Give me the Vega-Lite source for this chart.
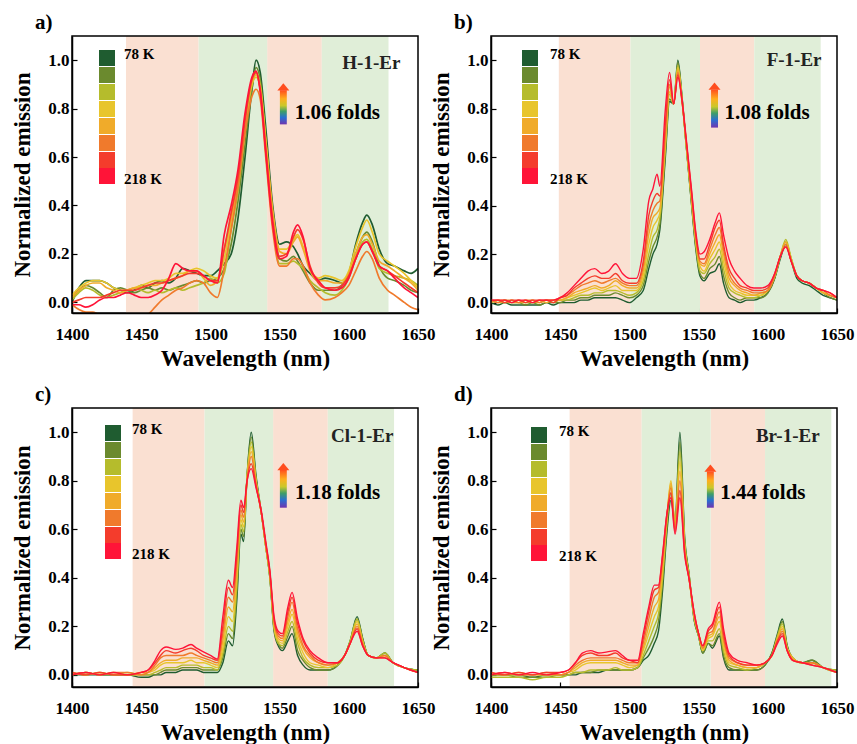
{
"$schema": "https://vega.github.io/schema/vega-lite/v6.json",
"background": "white",
"padding": {"left": 11, "top": 12, "right": 5, "bottom": 0},
"config": {
 "view": {"stroke": null},
 "font": "Liberation Serif",
 "axis": {"labelFont": "Liberation Serif", "labelFontWeight": "bold", "labelFontSize": 17, "labelColor": "black", "titleFont": "Liberation Serif", "titleFontWeight": "bold", "titleFontSize": 23, "titleColor": "black", "domainColor": "black", "domainWidth": 1.5, "tickColor": "black", "tickWidth": 1.2, "grid": false, "zindex": 2, "labelOverlap": false, "labelFlush": false},
 "axisX": {"labelPadding": 18, "titlePadding": 5},
 "axisY": {"labelPadding": 8, "titlePadding": 13}
},
"datasets": {
 "bandsA": [{"x1":1439,"x2":1491.5,"k":"s"},{"x1":1491.5,"x2":1541,"k":"g"},{"x1":1541,"x2":1580.5,"k":"s"},{"x1":1580.5,"x2":1628.7,"k":"g"}],
 "bandsB": [{"x1":1449,"x2":1500.8,"k":"s"},{"x1":1500.8,"x2":1551,"k":"g"},{"x1":1551,"x2":1590.2,"k":"s"},{"x1":1590.2,"x2":1638.2,"k":"g"}],
 "bandsC": [{"x1":1443.8,"x2":1495.8,"k":"s"},{"x1":1495.8,"x2":1545.3,"k":"g"},{"x1":1545.3,"x2":1584.8,"k":"s"},{"x1":1584.8,"x2":1632.7,"k":"g"}],
 "bandsD": [{"x1":1456.8,"x2":1508.9,"k":"s"},{"x1":1508.9,"x2":1558.7,"k":"g"},{"x1":1558.7,"x2":1598,"k":"s"},{"x1":1598,"x2":1645.9,"k":"g"}],
 "annA": [{"x1":1550.2,"x2":1555.2,"y1":0.735,"y2":0.876,"hx":1552.7,"hy":0.89,"tx":1561,"ty":0.78,"fold":"1.06 folds","sx":1616.3,"sy":0.99,"sample":"H-1-Er"}],
 "annB": [{"x1":1559,"x2":1564,"y1":0.722,"y2":0.879,"hx":1561.5,"hy":0.893,"tx":1568.7,"ty":0.783,"fold":"1.08 folds","sx":1619,"sy":1.0,"sample":"F-1-Er"}],
 "annC": [{"x1":1550.2,"x2":1555.2,"y1":0.689,"y2":0.846,"hx":1552.7,"hy":0.858,"tx":1561.1,"ty":0.75,"fold":"1.18 folds","sx":1609.7,"sy":0.983,"sample":"Cl-1-Er"}],
 "annD": [{"x1":1556,"x2":1561,"y1":0.689,"y2":0.838,"hx":1558.5,"hy":0.852,"tx":1565.7,"ty":0.75,"fold":"1.44 folds","sx":1614.4,"sy":0.983,"sample":"Br-1-Er"}],
 "specA": [
{"w":1400,"78":0.00,"98":0.02,"118":0.01,"138":0.03,"158":0.02,"178":-0.01,"198":0.00,"218":-0.01},
{"w":1405,"78":0.06,"98":0.05,"118":0.04,"138":0.06,"158":0.05,"178":-0.03,"198":0.01,"218":-0.01},
{"w":1410,"78":0.09,"98":0.07,"118":0.06,"138":0.08,"158":0.07,"178":-0.04,"198":0.02,"218":-0.02},
{"w":1415,"78":0.09,"98":0.06,"118":0.05,"138":0.09,"158":0.08,"178":-0.04,"198":0.02,"218":-0.01},
{"w":1420,"78":0.09,"98":0.04,"118":0.03,"138":0.09,"158":0.08,"178":-0.05,"198":0.02,"218":0.01},
{"w":1425,"78":0.08,"98":0.02,"118":0.02,"138":0.08,"158":0.06,"178":-0.05,"198":0.03,"218":0.02},
{"w":1430,"78":0.06,"98":0.05,"118":0.03,"138":0.06,"158":0.05,"178":-0.06,"198":0.04,"218":0.02},
{"w":1435,"78":0.05,"98":0.06,"118":0.04,"138":0.05,"158":0.04,"178":-0.07,"198":0.05,"218":0.03},
{"w":1440,"78":0.04,"98":0.05,"118":0.05,"138":0.05,"158":0.05,"178":-0.07,"198":0.05,"218":0.04},
{"w":1445,"78":0.05,"98":0.04,"118":0.06,"138":0.06,"158":0.06,"178":-0.08,"198":0.05,"218":0.03},
{"w":1450,"78":0.07,"98":0.05,"118":0.05,"138":0.07,"158":0.06,"178":-0.07,"198":0.06,"218":0.02},
{"w":1455,"78":0.06,"98":0.06,"118":0.04,"138":0.08,"158":0.07,"178":-0.05,"198":0.07,"218":0.02},
{"w":1460,"78":0.08,"98":0.05,"118":0.05,"138":0.09,"158":0.07,"178":-0.02,"198":0.08,"218":0.03},
{"w":1465,"78":0.09,"98":0.06,"118":0.04,"138":0.09,"158":0.08,"178":0.01,"198":0.08,"218":0.05},
{"w":1470,"78":0.08,"98":0.05,"118":0.05,"138":0.10,"158":0.09,"178":0.03,"198":0.09,"218":0.10},
{"w":1475,"78":0.10,"98":0.06,"118":0.06,"138":0.12,"158":0.10,"178":0.05,"198":0.10,"218":0.16},
{"w":1480,"78":0.14,"98":0.07,"118":0.05,"138":0.12,"158":0.11,"178":0.06,"198":0.11,"218":0.14},
{"w":1485,"78":0.13,"98":0.08,"118":0.06,"138":0.13,"158":0.13,"178":0.08,"198":0.12,"218":0.13},
{"w":1490,"78":0.12,"98":0.09,"118":0.07,"138":0.14,"158":0.13,"178":0.09,"198":0.12,"218":0.13},
{"w":1495,"78":0.11,"98":0.08,"118":0.08,"138":0.13,"158":0.10,"178":0.08,"198":0.11,"218":0.11},
{"w":1500,"78":0.11,"98":0.09,"118":0.10,"138":0.11,"158":0.07,"178":0.04,"198":0.09,"218":0.09},
{"w":1505,"78":0.13,"98":0.10,"118":0.08,"138":0.10,"158":0.09,"178":0.02,"198":0.09,"218":0.08},
{"w":1510,"78":0.16,"98":0.14,"118":0.12,"138":0.18,"158":0.22,"178":0.14,"198":0.22,"218":0.28},
{"w":1515,"78":0.20,"98":0.24,"118":0.30,"138":0.34,"158":0.35,"178":0.30,"198":0.37,"218":0.40},
{"w":1520,"78":0.35,"98":0.42,"118":0.46,"138":0.50,"158":0.52,"178":0.48,"198":0.52,"218":0.55},
{"w":1525,"78":0.60,"98":0.65,"118":0.70,"138":0.74,"158":0.76,"178":0.70,"198":0.75,"218":0.78},
{"w":1530,"78":0.88,"98":0.88,"118":0.90,"138":0.90,"158":0.91,"178":0.85,"198":0.92,"218":0.93},
{"w":1533,"78":1.00,"98":0.97,"118":0.95,"138":0.93,"158":0.94,"178":0.88,"198":0.95,"218":0.955},
{"w":1536,"78":0.95,"98":0.92,"118":0.90,"138":0.89,"158":0.88,"178":0.84,"198":0.88,"218":0.87},
{"w":1540,"78":0.72,"98":0.68,"118":0.66,"138":0.67,"158":0.66,"178":0.60,"198":0.63,"218":0.62},
{"w":1545,"78":0.40,"98":0.36,"118":0.34,"138":0.38,"158":0.37,"178":0.30,"198":0.34,"218":0.32},
{"w":1550,"78":0.24,"98":0.18,"118":0.16,"138":0.22,"158":0.21,"178":0.15,"198":0.19,"218":0.18},
{"w":1555,"78":0.25,"98":0.17,"118":0.16,"138":0.22,"158":0.20,"178":0.15,"198":0.20,"218":0.19},
{"w":1560,"78":0.23,"98":0.19,"118":0.17,"138":0.26,"158":0.25,"178":0.18,"198":0.27,"218":0.29},
{"w":1563,"78":0.20,"98":0.17,"118":0.16,"138":0.28,"158":0.27,"178":0.18,"198":0.30,"218":0.32},
{"w":1567,"78":0.15,"98":0.13,"118":0.14,"138":0.23,"158":0.22,"178":0.15,"198":0.26,"218":0.27},
{"w":1572,"78":0.12,"98":0.08,"118":0.09,"138":0.14,"158":0.13,"178":0.08,"198":0.15,"218":0.14},
{"w":1578,"78":0.09,"98":0.05,"118":0.06,"138":0.10,"158":0.09,"178":0.03,"198":0.08,"218":0.09},
{"w":1583,"78":0.10,"98":0.05,"118":0.04,"138":0.11,"158":0.09,"178":0.01,"198":0.06,"218":0.06},
{"w":1590,"78":0.09,"98":0.05,"118":0.03,"138":0.10,"158":0.08,"178":0.02,"198":0.06,"218":0.05},
{"w":1595,"78":0.08,"98":0.07,"118":0.05,"138":0.09,"158":0.08,"178":0.04,"198":0.07,"218":0.06},
{"w":1600,"78":0.12,"98":0.12,"118":0.10,"138":0.13,"158":0.12,"178":0.07,"198":0.11,"218":0.10},
{"w":1605,"78":0.24,"98":0.20,"118":0.18,"138":0.23,"158":0.20,"178":0.13,"198":0.18,"218":0.18},
{"w":1610,"78":0.33,"98":0.27,"118":0.25,"138":0.31,"158":0.27,"178":0.19,"198":0.24,"218":0.24},
{"w":1613,"78":0.36,"98":0.29,"118":0.26,"138":0.34,"158":0.28,"178":0.21,"198":0.25,"218":0.25},
{"w":1617,"78":0.32,"98":0.25,"118":0.22,"138":0.29,"158":0.24,"178":0.18,"198":0.21,"218":0.21},
{"w":1622,"78":0.22,"98":0.15,"118":0.14,"138":0.20,"158":0.17,"178":0.10,"198":0.15,"218":0.15},
{"w":1628,"78":0.16,"98":0.10,"118":0.12,"138":0.17,"158":0.15,"178":0.05,"198":0.13,"218":0.13},
{"w":1633,"78":0.15,"98":0.09,"118":0.11,"138":0.15,"158":0.13,"178":0.03,"198":0.11,"218":0.10},
{"w":1640,"78":0.13,"98":0.07,"118":0.10,"138":0.12,"158":0.10,"178":0.00,"198":0.08,"218":0.06},
{"w":1645,"78":0.12,"98":0.05,"118":0.09,"138":0.09,"158":0.08,"178":-0.02,"198":0.06,"218":0.04},
{"w":1650,"78":0.14,"98":0.04,"118":0.07,"138":0.06,"158":0.05,"178":-0.03,"198":0.04,"218":0.02}
 ],
 "specB": [
{"w":1400,"78":0.00,"98":0.01,"118":0.00,"138":0.01,"158":0.00,"178":0.01,"198":0.01,"218":0.01},
{"w":1405,"78":-0.01,"98":0.00,"118":0.01,"138":0.00,"158":0.01,"178":0.00,"198":0.01,"218":0.01},
{"w":1410,"78":0.00,"98":0.01,"118":0.00,"138":0.00,"158":0.01,"178":0.01,"198":0.00,"218":0.01},
{"w":1415,"78":-0.01,"98":0.00,"118":0.00,"138":0.01,"158":0.00,"178":0.01,"198":0.01,"218":0.00},
{"w":1420,"78":-0.01,"98":0.00,"118":0.01,"138":0.00,"158":0.00,"178":0.00,"198":0.01,"218":0.01},
{"w":1425,"78":-0.01,"98":-0.01,"118":0.00,"138":0.00,"158":0.01,"178":0.01,"198":0.00,"218":0.01},
{"w":1430,"78":-0.01,"98":0.00,"118":0.00,"138":0.01,"158":0.00,"178":0.01,"198":0.01,"218":0.00},
{"w":1435,"78":-0.01,"98":-0.01,"118":0.00,"138":0.00,"158":0.01,"178":0.00,"198":0.01,"218":0.01},
{"w":1440,"78":0.00,"98":0.00,"118":0.01,"138":0.01,"158":0.00,"178":0.01,"198":0.01,"218":0.01},
{"w":1445,"78":-0.01,"98":0.00,"118":0.00,"138":0.01,"158":0.01,"178":0.01,"198":0.00,"218":0.01},
{"w":1450,"78":0.00,"98":0.00,"118":0.01,"138":0.01,"158":0.01,"178":0.02,"198":0.02,"218":0.02},
{"w":1455,"78":0.00,"98":0.01,"118":0.01,"138":0.02,"158":0.02,"178":0.03,"198":0.03,"218":0.04},
{"w":1460,"78":0.00,"98":0.01,"118":0.02,"138":0.03,"158":0.04,"178":0.05,"198":0.06,"218":0.07},
{"w":1465,"78":0.01,"98":0.02,"118":0.03,"138":0.04,"158":0.05,"178":0.07,"198":0.08,"218":0.10},
{"w":1470,"78":0.01,"98":0.02,"118":0.03,"138":0.05,"158":0.06,"178":0.08,"198":0.10,"218":0.13},
{"w":1475,"78":0.02,"98":0.03,"118":0.04,"138":0.06,"158":0.07,"178":0.09,"198":0.11,"218":0.14},
{"w":1480,"78":0.02,"98":0.03,"118":0.04,"138":0.05,"158":0.06,"178":0.08,"198":0.10,"218":0.12},
{"w":1485,"78":0.02,"98":0.03,"118":0.05,"138":0.06,"158":0.07,"178":0.09,"198":0.10,"218":0.13},
{"w":1490,"78":0.02,"98":0.04,"118":0.05,"138":0.07,"158":0.09,"178":0.10,"198":0.12,"218":0.16},
{"w":1495,"78":0.01,"98":0.03,"118":0.04,"138":0.05,"158":0.07,"178":0.08,"198":0.09,"218":0.12},
{"w":1500,"78":0.00,"98":0.02,"118":0.03,"138":0.05,"158":0.06,"178":0.07,"198":0.08,"218":0.10},
{"w":1505,"78":0.02,"98":0.03,"118":0.04,"138":0.05,"158":0.06,"178":0.07,"198":0.08,"218":0.10},
{"w":1510,"78":0.05,"98":0.07,"118":0.09,"138":0.11,"158":0.13,"178":0.15,"198":0.17,"218":0.22},
{"w":1514,"78":0.14,"98":0.17,"118":0.20,"138":0.24,"158":0.28,"178":0.32,"198":0.36,"218":0.42},
{"w":1517,"78":0.20,"98":0.23,"118":0.27,"138":0.31,"158":0.35,"178":0.38,"198":0.42,"218":0.47},
{"w":1520,"78":0.24,"98":0.27,"118":0.30,"138":0.34,"158":0.37,"178":0.41,"198":0.45,"218":0.53},
{"w":1522,"78":0.30,"98":0.32,"118":0.35,"138":0.37,"158":0.39,"178":0.42,"198":0.44,"218":0.48},
{"w":1526,"78":0.60,"98":0.62,"118":0.64,"138":0.66,"158":0.68,"178":0.70,"198":0.74,"218":0.80},
{"w":1529,"78":0.83,"98":0.84,"118":0.86,"138":0.87,"158":0.89,"178":0.90,"198":0.92,"218":0.95},
{"w":1532,"78":0.82,"98":0.82,"118":0.82,"138":0.82,"158":0.82,"178":0.82,"198":0.82,"218":0.82},
{"w":1535,"78":1.00,"98":0.99,"118":0.98,"138":0.97,"158":0.96,"178":0.95,"198":0.94,"218":0.93},
{"w":1538,"78":0.85,"98":0.85,"118":0.84,"138":0.84,"158":0.84,"178":0.83,"198":0.83,"218":0.84},
{"w":1541,"78":0.65,"98":0.65,"118":0.65,"138":0.66,"158":0.66,"178":0.67,"198":0.67,"218":0.68},
{"w":1545,"78":0.40,"98":0.40,"118":0.41,"138":0.42,"158":0.43,"178":0.44,"198":0.45,"218":0.46},
{"w":1548,"78":0.22,"98":0.23,"118":0.24,"138":0.25,"158":0.26,"178":0.27,"198":0.28,"218":0.29},
{"w":1551,"78":0.11,"98":0.12,"118":0.13,"138":0.15,"158":0.16,"178":0.17,"198":0.18,"218":0.20},
{"w":1554,"78":0.09,"98":0.10,"118":0.12,"138":0.13,"158":0.15,"178":0.16,"198":0.18,"218":0.21},
{"w":1558,"78":0.12,"98":0.14,"118":0.16,"138":0.18,"158":0.20,"178":0.22,"198":0.24,"218":0.26},
{"w":1562,"78":0.13,"98":0.16,"118":0.19,"138":0.22,"158":0.25,"178":0.28,"198":0.31,"218":0.33},
{"w":1565,"78":0.16,"98":0.19,"118":0.22,"138":0.25,"158":0.28,"178":0.31,"198":0.34,"218":0.37},
{"w":1568,"78":0.08,"98":0.11,"118":0.14,"138":0.17,"158":0.20,"178":0.22,"198":0.24,"218":0.28},
{"w":1572,"78":0.02,"98":0.04,"118":0.06,"138":0.08,"158":0.10,"178":0.12,"198":0.14,"218":0.18},
{"w":1576,"78":0.01,"98":0.02,"118":0.04,"138":0.05,"158":0.07,"178":0.08,"198":0.10,"218":0.13},
{"w":1580,"78":0.00,"98":0.01,"118":0.03,"138":0.04,"158":0.05,"178":0.06,"198":0.07,"218":0.10},
{"w":1585,"78":0.01,"98":0.02,"118":0.02,"138":0.03,"158":0.04,"178":0.05,"198":0.06,"218":0.07},
{"w":1590,"78":0.01,"98":0.02,"118":0.02,"138":0.03,"158":0.03,"178":0.04,"198":0.05,"218":0.06},
{"w":1595,"78":0.02,"98":0.02,"118":0.03,"138":0.03,"158":0.04,"178":0.04,"198":0.05,"218":0.06},
{"w":1600,"78":0.04,"98":0.04,"118":0.05,"138":0.05,"158":0.05,"178":0.05,"198":0.06,"218":0.07},
{"w":1605,"78":0.10,"98":0.10,"118":0.11,"138":0.11,"158":0.11,"178":0.11,"198":0.12,"218":0.12},
{"w":1609,"78":0.18,"98":0.19,"118":0.19,"138":0.19,"158":0.19,"178":0.19,"198":0.19,"218":0.19},
{"w":1613,"78":0.24,"98":0.25,"118":0.26,"138":0.25,"158":0.25,"178":0.24,"198":0.23,"218":0.23},
{"w":1617,"78":0.17,"98":0.18,"118":0.18,"138":0.18,"158":0.17,"178":0.17,"198":0.17,"218":0.17},
{"w":1621,"78":0.10,"98":0.11,"118":0.11,"138":0.11,"158":0.11,"178":0.11,"198":0.11,"218":0.11},
{"w":1625,"78":0.08,"98":0.09,"118":0.09,"138":0.09,"158":0.09,"178":0.09,"198":0.09,"218":0.09},
{"w":1630,"78":0.07,"98":0.08,"118":0.08,"138":0.08,"158":0.08,"178":0.08,"198":0.08,"218":0.08},
{"w":1635,"78":0.05,"98":0.06,"118":0.06,"138":0.06,"158":0.06,"178":0.06,"198":0.06,"218":0.06},
{"w":1640,"78":0.03,"98":0.04,"118":0.04,"138":0.04,"158":0.04,"178":0.05,"198":0.05,"218":0.05},
{"w":1645,"78":0.02,"98":0.02,"118":0.03,"138":0.03,"158":0.03,"178":0.03,"198":0.04,"218":0.04},
{"w":1650,"78":0.01,"98":0.01,"118":0.02,"138":0.02,"158":0.02,"178":0.02,"198":0.02,"218":0.02}
 ],
 "specC": [
{"w":1400,"78":0.00,"98":0.00,"118":0.01,"138":0.00,"158":0.01,"178":0.00,"198":0.01,"218":0.00},
{"w":1410,"78":0.00,"98":0.01,"118":0.00,"138":0.01,"158":0.00,"178":0.01,"198":0.00,"218":0.01},
{"w":1420,"78":0.00,"98":0.00,"118":0.01,"138":0.00,"158":0.01,"178":0.00,"198":0.01,"218":0.00},
{"w":1430,"78":0.00,"98":0.00,"118":0.00,"138":0.01,"158":0.00,"178":0.01,"198":0.00,"218":0.01},
{"w":1440,"78":0.00,"98":0.00,"118":0.01,"138":0.00,"158":0.00,"178":0.01,"198":0.00,"218":0.00},
{"w":1450,"78":-0.01,"98":0.00,"118":0.00,"138":0.00,"158":0.01,"178":0.00,"198":0.01,"218":0.01},
{"w":1455,"78":-0.01,"98":0.00,"118":0.00,"138":0.01,"158":0.01,"178":0.01,"198":0.02,"218":0.02},
{"w":1460,"78":0.00,"98":0.00,"118":0.01,"138":0.02,"158":0.03,"178":0.04,"198":0.05,"218":0.06},
{"w":1464,"78":0.00,"98":0.01,"118":0.02,"138":0.04,"158":0.05,"178":0.07,"198":0.08,"218":0.10},
{"w":1468,"78":0.01,"98":0.02,"118":0.03,"138":0.05,"158":0.06,"178":0.08,"198":0.10,"218":0.115},
{"w":1475,"78":0.01,"98":0.02,"118":0.03,"138":0.05,"158":0.06,"178":0.08,"198":0.09,"218":0.105},
{"w":1480,"78":0.02,"98":0.03,"118":0.04,"138":0.05,"158":0.07,"178":0.08,"198":0.10,"218":0.11},
{"w":1486,"78":0.02,"98":0.03,"118":0.04,"138":0.06,"158":0.07,"178":0.09,"198":0.11,"218":0.125},
{"w":1490,"78":0.02,"98":0.03,"118":0.04,"138":0.05,"158":0.07,"178":0.08,"198":0.10,"218":0.11},
{"w":1495,"78":0.01,"98":0.02,"118":0.03,"138":0.05,"158":0.06,"178":0.07,"198":0.08,"218":0.095},
{"w":1500,"78":0.01,"98":0.02,"118":0.03,"138":0.04,"158":0.05,"178":0.06,"198":0.07,"218":0.08},
{"w":1505,"78":0.01,"98":0.02,"118":0.02,"138":0.03,"158":0.04,"178":0.05,"198":0.06,"218":0.065},
{"w":1509,"78":0.05,"98":0.07,"118":0.09,"138":0.11,"158":0.14,"178":0.17,"198":0.20,"218":0.24},
{"w":1513,"78":0.14,"98":0.17,"118":0.20,"138":0.24,"158":0.28,"178":0.32,"198":0.36,"218":0.39},
{"w":1516,"78":0.12,"98":0.15,"118":0.18,"138":0.22,"158":0.26,"178":0.30,"198":0.33,"218":0.36},
{"w":1519,"78":0.30,"98":0.33,"118":0.36,"138":0.40,"158":0.43,"178":0.46,"198":0.49,"218":0.52},
{"w":1522,"78":0.58,"98":0.60,"118":0.62,"138":0.64,"158":0.66,"178":0.68,"198":0.70,"218":0.72},
{"w":1524,"78":0.55,"98":0.57,"118":0.59,"138":0.61,"158":0.63,"178":0.65,"198":0.67,"218":0.69},
{"w":1526.5,"78":0.82,"98":0.82,"118":0.82,"138":0.81,"158":0.81,"178":0.80,"198":0.80,"218":0.80},
{"w":1529.5,"78":1.00,"98":0.98,"118":0.96,"138":0.94,"158":0.92,"178":0.90,"198":0.87,"218":0.85},
{"w":1533,"78":0.82,"98":0.81,"118":0.80,"138":0.80,"158":0.79,"178":0.78,"198":0.78,"218":0.77},
{"w":1537,"78":0.66,"98":0.66,"118":0.66,"138":0.66,"158":0.66,"178":0.66,"198":0.66,"218":0.67},
{"w":1540,"78":0.53,"98":0.53,"118":0.53,"138":0.53,"158":0.53,"178":0.54,"198":0.54,"218":0.55},
{"w":1543,"78":0.40,"98":0.40,"118":0.40,"138":0.41,"158":0.41,"178":0.42,"198":0.42,"218":0.43},
{"w":1546,"78":0.18,"98":0.19,"118":0.19,"138":0.20,"158":0.21,"178":0.22,"198":0.23,"218":0.24},
{"w":1549,"78":0.12,"98":0.13,"118":0.13,"138":0.14,"158":0.15,"178":0.16,"198":0.17,"218":0.18},
{"w":1552,"78":0.10,"98":0.11,"118":0.12,"138":0.13,"158":0.14,"178":0.15,"198":0.16,"218":0.17},
{"w":1556,"78":0.14,"98":0.16,"118":0.18,"138":0.20,"158":0.22,"178":0.24,"198":0.26,"218":0.28},
{"w":1559,"78":0.17,"98":0.20,"118":0.22,"138":0.25,"158":0.27,"178":0.30,"198":0.32,"218":0.34},
{"w":1563,"78":0.08,"98":0.10,"118":0.13,"138":0.15,"158":0.17,"178":0.19,"198":0.21,"218":0.23},
{"w":1567,"78":0.04,"98":0.06,"118":0.07,"138":0.09,"158":0.11,"178":0.12,"198":0.14,"218":0.15},
{"w":1572,"78":0.02,"98":0.03,"118":0.04,"138":0.05,"158":0.07,"178":0.08,"198":0.09,"218":0.10},
{"w":1578,"78":0.02,"98":0.02,"118":0.03,"138":0.04,"158":0.05,"178":0.05,"198":0.06,"218":0.07},
{"w":1585,"78":0.02,"98":0.02,"118":0.03,"138":0.03,"158":0.04,"178":0.04,"198":0.05,"218":0.05},
{"w":1592,"78":0.04,"98":0.04,"118":0.04,"138":0.05,"158":0.05,"178":0.05,"198":0.05,"218":0.05},
{"w":1597,"78":0.08,"98":0.08,"118":0.08,"138":0.08,"158":0.08,"178":0.08,"198":0.08,"218":0.08},
{"w":1601,"78":0.14,"98":0.14,"118":0.14,"138":0.13,"158":0.13,"178":0.13,"198":0.13,"218":0.13},
{"w":1606,"78":0.24,"98":0.23,"118":0.23,"138":0.22,"158":0.21,"178":0.20,"198":0.19,"218":0.18},
{"w":1610,"78":0.15,"98":0.15,"118":0.14,"138":0.14,"158":0.13,"178":0.13,"198":0.12,"218":0.12},
{"w":1614,"78":0.08,"98":0.08,"118":0.08,"138":0.08,"158":0.08,"178":0.08,"198":0.08,"218":0.08},
{"w":1620,"78":0.07,"98":0.07,"118":0.07,"138":0.07,"158":0.07,"178":0.07,"198":0.07,"218":0.07},
{"w":1626,"78":0.09,"98":0.09,"118":0.09,"138":0.08,"158":0.08,"178":0.08,"198":0.07,"218":0.07},
{"w":1632,"78":0.05,"98":0.05,"118":0.05,"138":0.05,"158":0.05,"178":0.05,"198":0.05,"218":0.05},
{"w":1640,"78":0.03,"98":0.03,"118":0.03,"138":0.03,"158":0.03,"178":0.03,"198":0.03,"218":0.03},
{"w":1650,"78":0.02,"98":0.02,"118":0.02,"138":0.01,"158":0.01,"178":0.01,"198":0.01,"218":0.01}
 ],
 "specD": [
{"w":1400,"78":0.00,"98":0.00,"118":-0.01,"138":0.00,"158":0.01,"178":0.00,"198":0.01,"218":0.00},
{"w":1410,"78":0.00,"98":0.00,"118":-0.01,"138":0.00,"158":0.00,"178":0.01,"198":0.00,"218":0.01},
{"w":1420,"78":0.00,"98":-0.01,"118":-0.01,"138":0.00,"158":0.01,"178":0.00,"198":0.01,"218":0.00},
{"w":1430,"78":-0.01,"98":-0.01,"118":-0.02,"138":0.00,"158":0.00,"178":0.00,"198":0.00,"218":0.01},
{"w":1440,"78":0.00,"98":-0.01,"118":-0.01,"138":0.00,"158":0.00,"178":0.01,"198":0.01,"218":0.00},
{"w":1450,"78":0.00,"98":0.00,"118":-0.01,"138":0.00,"158":0.00,"178":0.00,"198":0.01,"218":0.01},
{"w":1456,"78":0.00,"98":0.00,"118":0.00,"138":0.01,"158":0.01,"178":0.01,"198":0.02,"218":0.02},
{"w":1461,"78":0.00,"98":0.01,"118":0.01,"138":0.02,"158":0.03,"178":0.04,"198":0.05,"218":0.05},
{"w":1466,"78":0.01,"98":0.01,"118":0.01,"138":0.04,"158":0.05,"178":0.06,"198":0.08,"218":0.09},
{"w":1472,"78":0.01,"98":0.01,"118":0.02,"138":0.05,"158":0.06,"178":0.07,"198":0.09,"218":0.10},
{"w":1478,"78":0.01,"98":0.02,"118":0.02,"138":0.05,"158":0.06,"178":0.07,"198":0.08,"218":0.09},
{"w":1484,"78":0.02,"98":0.02,"118":0.02,"138":0.05,"158":0.06,"178":0.07,"198":0.08,"218":0.095},
{"w":1490,"78":0.02,"98":0.02,"118":0.03,"138":0.05,"158":0.06,"178":0.07,"198":0.09,"218":0.10},
{"w":1495,"78":0.02,"98":0.02,"118":0.02,"138":0.04,"158":0.05,"178":0.06,"198":0.07,"218":0.08},
{"w":1500,"78":0.02,"98":0.02,"118":0.02,"138":0.03,"158":0.04,"178":0.05,"198":0.06,"218":0.06},
{"w":1506,"78":0.03,"98":0.03,"118":0.03,"138":0.04,"158":0.04,"178":0.05,"198":0.05,"218":0.06},
{"w":1510,"78":0.06,"98":0.07,"118":0.08,"138":0.10,"158":0.11,"178":0.13,"198":0.15,"218":0.17},
{"w":1514,"78":0.08,"98":0.11,"118":0.14,"138":0.17,"158":0.20,"178":0.23,"198":0.26,"218":0.28},
{"w":1518,"78":0.13,"98":0.16,"118":0.20,"138":0.24,"158":0.28,"178":0.32,"198":0.35,"218":0.37},
{"w":1521,"78":0.18,"98":0.22,"118":0.25,"138":0.28,"158":0.31,"178":0.34,"198":0.36,"218":0.37},
{"w":1524,"78":0.35,"98":0.38,"118":0.40,"138":0.43,"158":0.45,"178":0.47,"198":0.49,"218":0.50},
{"w":1527,"78":0.58,"98":0.60,"118":0.62,"138":0.64,"158":0.64,"178":0.65,"198":0.66,"218":0.66},
{"w":1530,"78":0.72,"98":0.75,"118":0.78,"138":0.80,"158":0.79,"178":0.77,"198":0.75,"218":0.73},
{"w":1533,"78":0.63,"98":0.63,"118":0.62,"138":0.62,"158":0.61,"178":0.60,"198":0.59,"218":0.58},
{"w":1536.5,"78":1.00,"98":0.96,"118":0.92,"138":0.88,"158":0.84,"178":0.80,"198":0.76,"218":0.73},
{"w":1540,"78":0.56,"98":0.55,"118":0.54,"138":0.53,"158":0.52,"178":0.51,"198":0.50,"218":0.49},
{"w":1543,"78":0.42,"98":0.42,"118":0.41,"138":0.41,"158":0.40,"178":0.40,"198":0.40,"218":0.40},
{"w":1547,"78":0.22,"98":0.22,"118":0.23,"138":0.23,"158":0.24,"178":0.24,"198":0.25,"218":0.25},
{"w":1550,"78":0.16,"98":0.16,"118":0.16,"138":0.17,"158":0.17,"178":0.17,"198":0.17,"218":0.17},
{"w":1553,"78":0.09,"98":0.09,"118":0.10,"138":0.10,"158":0.11,"178":0.11,"198":0.12,"218":0.12},
{"w":1557,"78":0.13,"98":0.13,"118":0.14,"138":0.15,"158":0.16,"178":0.17,"198":0.18,"218":0.19},
{"w":1560,"78":0.11,"98":0.12,"118":0.14,"138":0.16,"158":0.17,"178":0.18,"198":0.20,"218":0.21},
{"w":1565,"78":0.16,"98":0.17,"118":0.19,"138":0.22,"158":0.24,"178":0.26,"198":0.28,"218":0.30},
{"w":1568,"78":0.07,"98":0.08,"118":0.10,"138":0.12,"158":0.14,"178":0.15,"198":0.17,"218":0.19},
{"w":1572,"78":0.02,"98":0.03,"118":0.04,"138":0.05,"158":0.06,"178":0.07,"198":0.08,"218":0.09},
{"w":1578,"78":0.02,"98":0.02,"118":0.03,"138":0.04,"158":0.04,"178":0.05,"198":0.05,"218":0.06},
{"w":1585,"78":0.02,"98":0.02,"118":0.02,"138":0.03,"158":0.03,"178":0.04,"198":0.04,"218":0.05},
{"w":1592,"78":0.02,"98":0.02,"118":0.03,"138":0.03,"158":0.03,"178":0.04,"198":0.04,"218":0.04},
{"w":1598,"78":0.04,"98":0.04,"118":0.05,"138":0.05,"158":0.05,"178":0.05,"198":0.05,"218":0.05},
{"w":1603,"78":0.09,"98":0.09,"118":0.08,"138":0.08,"158":0.08,"178":0.08,"198":0.08,"218":0.08},
{"w":1607,"78":0.17,"98":0.16,"118":0.16,"138":0.15,"158":0.15,"178":0.14,"198":0.14,"218":0.13},
{"w":1610.5,"78":0.23,"98":0.22,"118":0.21,"138":0.20,"158":0.19,"178":0.18,"198":0.17,"218":0.16},
{"w":1614,"78":0.12,"98":0.12,"118":0.11,"138":0.11,"158":0.11,"178":0.10,"198":0.10,"218":0.10},
{"w":1618,"78":0.07,"98":0.07,"118":0.07,"138":0.07,"158":0.07,"178":0.06,"198":0.06,"218":0.06},
{"w":1625,"78":0.05,"98":0.05,"118":0.05,"138":0.05,"158":0.05,"178":0.05,"198":0.05,"218":0.05},
{"w":1632,"78":0.06,"98":0.06,"118":0.05,"138":0.05,"158":0.05,"178":0.05,"198":0.04,"218":0.04},
{"w":1640,"78":0.03,"98":0.03,"118":0.03,"138":0.03,"158":0.03,"178":0.03,"198":0.03,"218":0.03},
{"w":1650,"78":0.02,"98":0.01,"118":0.02,"138":0.01,"158":0.01,"178":0.01,"198":0.01,"218":0.01}
 ]
},
"columns": 2,
"spacing": {"row": 95, "column": 73},
"bounds": "flush",
"resolve": {"scale": {"color": "independent", "stroke": "independent"}, "legend": {"color": "independent"}},
"concat": [
 {"width": 346, "height": 277,
  "title": {"text": "a)", "anchor": "start", "frame": "group", "dx": -37, "offset": 2, "fontSize": 21, "font": "Liberation Serif", "fontWeight": "bold", "color": "black"},
  "layer": [
   {"data": {"name": "bandsA"}, "transform": [{"filter": "datum.k == 's'"}], "mark": {"type": "rect", "color": "#fae0d2"}, "encoding": {"x": {"field": "x1", "type": "quantitative", "scale": {"domain": [1400, 1650], "nice": false}, "axis": null}, "x2": {"field": "x2"}}},
   {"data": {"name": "bandsA"}, "transform": [{"filter": "datum.k == 'g'"}], "mark": {"type": "rect", "color": "#e0eed8"}, "encoding": {"x": {"field": "x1", "type": "quantitative", "axis": null}, "x2": {"field": "x2"}}},
   {"data": {"name": "specA"}, "transform": [{"fold": ["78","98","118","138","158","178","198","218"], "as": ["T", "v"]}],
    "mark": {"type": "line", "strokeWidth": 1.7, "clip": true, "interpolate": "monotone"},
    "encoding": {
     "x": {"field": "w", "type": "quantitative", "title": "Wavelength (nm)", "axis": {"values": [1400,1450,1500,1550,1600,1650], "format": "d", "tickSize": -5}},
     "y": {"field": "v", "type": "quantitative", "title": "Normalized emission", "scale": {"domain": [-0.044, 1.1], "nice": false, "zero": false}, "axis": {"values": [0,0.2,0.4,0.6,0.8,1.0], "format": ".1f", "tickSize": -5}},
     "stroke": {"field": "T", "type": "nominal", "scale": {"domain": ["218","198","178","158","138","118","98","78"], "range": ["#ff1438","#f43c2c","#f07a2c","#f0ab2a","#e8c52c","#b5bc2c","#6b8a2e","#1f5c30"]}, "legend": null}
    }},
   {"data": {"name": "specA"}, "transform": [{"fold": ["78","98","118","138","158","178","198","218"], "as": ["T", "v"]}],
    "mark": {"type": "point", "filled": true, "opacity": 0, "clip": true},
    "encoding": {
     "x": {"field": "w", "type": "quantitative", "axis": null},
     "y": {"field": "v", "type": "quantitative", "axis": null},
     "color": {"field": "T", "type": "nominal", "scale": {"domain": ["78","98","118","138","158","178","198","218"], "range": ["#1f5c30","#6b8a2e","#b5bc2c","#e8c52c","#f0ab2a","#f07a2c","#f43c2c","#ff1438"]},
      "legend": {"title": null, "orient": "none", "legendX": 27, "legendY": 14, "symbolType": "square", "symbolSize": 256, "symbolStrokeWidth": 0, "symbolOpacity": 1, "rowPadding": -2, "labelFont": "Liberation Serif", "labelFontWeight": "bold", "labelFontSize": 15, "labelColor": "black", "labelOffset": 9, "labelExpr": "datum.value == '78' ? '78 K' : datum.value == '218' ? '218 K' : ''", "encode": {"symbols": {"update": {"opacity": {"value": 1}, "fillOpacity": {"value": 1}}}, "labels": {"update": {"dy": {"signal": "datum.value == '218' ? 3 : -4"}}}}}}
    }},
   {"data": {"name": "annA"}, "mark": {"type": "rect", "fill": {"gradient": "linear", "x1": 0, "y1": 0, "x2": 0, "y2": 1, "stops": [{"offset": 0, "color": "#ff4d1f"}, {"offset": 0.25, "color": "#ffae1e"}, {"offset": 0.45, "color": "#c9c82a"}, {"offset": 0.62, "color": "#3f9e66"}, {"offset": 0.8, "color": "#2a6fd0"}, {"offset": 1, "color": "#7035b0"}]}},
    "encoding": {"x": {"field": "x1", "type": "quantitative", "axis": null}, "x2": {"field": "x2"}, "y": {"field": "y1", "type": "quantitative", "axis": null}, "y2": {"field": "y2"}}},
   {"data": {"name": "annA"}, "mark": {"type": "point", "shape": "M-1,0.6L0,-0.6L1,0.6Z", "filled": true, "size": 144, "color": "#ff4d1f", "opacity": 1},
    "encoding": {"x": {"field": "hx", "type": "quantitative", "axis": null}, "y": {"field": "hy", "type": "quantitative", "axis": null}}},
   {"data": {"name": "annA"}, "mark": {"type": "text", "align": "left", "baseline": "middle", "fontSize": 21, "font": "Liberation Serif", "fontWeight": "bold", "color": "black"},
    "encoding": {"x": {"field": "tx", "type": "quantitative", "axis": null}, "y": {"field": "ty", "type": "quantitative", "axis": null}, "text": {"field": "fold"}}},
   {"data": {"name": "annA"}, "mark": {"type": "text", "align": "center", "baseline": "middle", "fontSize": 19, "font": "Liberation Serif", "fontWeight": "bold", "color": "#222222"},
    "encoding": {"x": {"field": "sx", "type": "quantitative", "axis": null}, "y": {"field": "sy", "type": "quantitative", "axis": null}, "text": {"field": "sample"}}},
   {"data": {"name": "annA"}, "mark": {"type": "rect", "fill": null, "filled": false, "stroke": "black", "strokeWidth": 1.5}, "encoding": {}}
  ],
  "resolve": {"axis": {"x": "independent", "y": "independent"}}
 },
 {"width": 346, "height": 277,
  "title": {"text": "b)", "anchor": "start", "frame": "group", "dx": -37, "offset": 2, "fontSize": 21, "font": "Liberation Serif", "fontWeight": "bold", "color": "black"},
  "layer": [
   {"data": {"name": "bandsB"}, "transform": [{"filter": "datum.k == 's'"}], "mark": {"type": "rect", "color": "#fae0d2"}, "encoding": {"x": {"field": "x1", "type": "quantitative", "scale": {"domain": [1400, 1650], "nice": false}, "axis": null}, "x2": {"field": "x2"}}},
   {"data": {"name": "bandsB"}, "transform": [{"filter": "datum.k == 'g'"}], "mark": {"type": "rect", "color": "#e0eed8"}, "encoding": {"x": {"field": "x1", "type": "quantitative", "axis": null}, "x2": {"field": "x2"}}},
   {"data": {"name": "specB"}, "transform": [{"fold": ["78","98","118","138","158","178","198","218"], "as": ["T", "v"]}],
    "mark": {"type": "line", "strokeWidth": 1.4, "clip": true, "interpolate": "monotone"},
    "encoding": {
     "x": {"field": "w", "type": "quantitative", "title": "Wavelength (nm)", "axis": {"values": [1400,1450,1500,1550,1600,1650], "format": "d", "tickSize": -5}},
     "y": {"field": "v", "type": "quantitative", "title": "Normalized emission", "scale": {"domain": [-0.043, 1.1], "nice": false, "zero": false}, "axis": {"values": [0,0.2,0.4,0.6,0.8,1.0], "format": ".1f", "tickSize": -5}},
     "stroke": {"field": "T", "type": "nominal", "scale": {"domain": ["218","198","178","158","138","118","98","78"], "range": ["#ff1438","#f43c2c","#f07a2c","#f0ab2a","#e8c52c","#b5bc2c","#6b8a2e","#1f5c30"]}, "legend": null}
    }},
   {"data": {"name": "specB"}, "transform": [{"fold": ["78","98","118","138","158","178","198","218"], "as": ["T", "v"]}],
    "mark": {"type": "point", "filled": true, "opacity": 0, "clip": true},
    "encoding": {
     "x": {"field": "w", "type": "quantitative", "axis": null},
     "y": {"field": "v", "type": "quantitative", "axis": null},
     "color": {"field": "T", "type": "nominal", "scale": {"domain": ["78","98","118","138","158","178","198","218"], "range": ["#1f5c30","#6b8a2e","#b5bc2c","#e8c52c","#f0ab2a","#f07a2c","#f43c2c","#ff1438"]},
      "legend": {"title": null, "orient": "none", "legendX": 31, "legendY": 14, "symbolType": "square", "symbolSize": 256, "symbolStrokeWidth": 0, "symbolOpacity": 1, "rowPadding": -2, "labelFont": "Liberation Serif", "labelFontWeight": "bold", "labelFontSize": 15, "labelColor": "black", "labelOffset": 12, "labelExpr": "datum.value == '78' ? '78 K' : datum.value == '218' ? '218 K' : ''", "encode": {"symbols": {"update": {"opacity": {"value": 1}, "fillOpacity": {"value": 1}}}, "labels": {"update": {"dy": {"signal": "datum.value == '218' ? 3 : -4"}}}}}}
    }},
   {"data": {"name": "annB"}, "mark": {"type": "rect", "fill": {"gradient": "linear", "x1": 0, "y1": 0, "x2": 0, "y2": 1, "stops": [{"offset": 0, "color": "#ff4d1f"}, {"offset": 0.25, "color": "#ffae1e"}, {"offset": 0.45, "color": "#c9c82a"}, {"offset": 0.62, "color": "#3f9e66"}, {"offset": 0.8, "color": "#2a6fd0"}, {"offset": 1, "color": "#7035b0"}]}},
    "encoding": {"x": {"field": "x1", "type": "quantitative", "axis": null}, "x2": {"field": "x2"}, "y": {"field": "y1", "type": "quantitative", "axis": null}, "y2": {"field": "y2"}}},
   {"data": {"name": "annB"}, "mark": {"type": "point", "shape": "M-1,0.6L0,-0.6L1,0.6Z", "filled": true, "size": 144, "color": "#ff4d1f", "opacity": 1},
    "encoding": {"x": {"field": "hx", "type": "quantitative", "axis": null}, "y": {"field": "hy", "type": "quantitative", "axis": null}}},
   {"data": {"name": "annB"}, "mark": {"type": "text", "align": "left", "baseline": "middle", "fontSize": 21, "font": "Liberation Serif", "fontWeight": "bold", "color": "black"},
    "encoding": {"x": {"field": "tx", "type": "quantitative", "axis": null}, "y": {"field": "ty", "type": "quantitative", "axis": null}, "text": {"field": "fold"}}},
   {"data": {"name": "annB"}, "mark": {"type": "text", "align": "center", "baseline": "middle", "fontSize": 19, "font": "Liberation Serif", "fontWeight": "bold", "color": "#222222"},
    "encoding": {"x": {"field": "sx", "type": "quantitative", "axis": null}, "y": {"field": "sy", "type": "quantitative", "axis": null}, "text": {"field": "sample"}}},
   {"data": {"name": "annB"}, "mark": {"type": "rect", "fill": null, "filled": false, "stroke": "black", "strokeWidth": 1.5}, "encoding": {}}
  ],
  "resolve": {"axis": {"x": "independent", "y": "independent"}}
 },
 {"width": 346, "height": 279,
  "title": {"text": "c)", "anchor": "start", "frame": "group", "dx": -37, "offset": 2, "fontSize": 21, "font": "Liberation Serif", "fontWeight": "bold", "color": "black"},
  "layer": [
   {"data": {"name": "bandsC"}, "transform": [{"filter": "datum.k == 's'"}], "mark": {"type": "rect", "color": "#fae0d2"}, "encoding": {"x": {"field": "x1", "type": "quantitative", "scale": {"domain": [1400, 1650], "nice": false}, "axis": null}, "x2": {"field": "x2"}}},
   {"data": {"name": "bandsC"}, "transform": [{"filter": "datum.k == 'g'"}], "mark": {"type": "rect", "color": "#e0eed8"}, "encoding": {"x": {"field": "x1", "type": "quantitative", "axis": null}, "x2": {"field": "x2"}}},
   {"data": {"name": "specC"}, "transform": [{"fold": ["78","98","118","138","158","178","198","218"], "as": ["T", "v"]}],
    "mark": {"type": "line", "strokeWidth": 1.4, "clip": true, "interpolate": "monotone"},
    "encoding": {
     "x": {"field": "w", "type": "quantitative", "title": "Wavelength (nm)", "axis": {"values": [1400,1450,1500,1550,1600,1650], "format": "d", "tickSize": -5}},
     "y": {"field": "v", "type": "quantitative", "title": "Normalized emission", "scale": {"domain": [-0.05, 1.1], "nice": false, "zero": false}, "axis": {"values": [0,0.2,0.4,0.6,0.8,1.0], "format": ".1f", "tickSize": -5}},
     "stroke": {"field": "T", "type": "nominal", "scale": {"domain": ["218","198","178","158","138","118","98","78"], "range": ["#ff1438","#f43c2c","#f07a2c","#f0ab2a","#e8c52c","#b5bc2c","#6b8a2e","#1f5c30"]}, "legend": null}
    }},
   {"data": {"name": "specC"}, "transform": [{"fold": ["78","98","118","138","158","178","198","218"], "as": ["T", "v"]}],
    "mark": {"type": "point", "filled": true, "opacity": 0, "clip": true},
    "encoding": {
     "x": {"field": "w", "type": "quantitative", "axis": null},
     "y": {"field": "v", "type": "quantitative", "axis": null},
     "color": {"field": "T", "type": "nominal", "scale": {"domain": ["78","98","118","138","158","178","198","218"], "range": ["#1f5c30","#6b8a2e","#b5bc2c","#e8c52c","#f0ab2a","#f07a2c","#f43c2c","#ff1438"]},
      "legend": {"title": null, "orient": "none", "legendX": 33, "legendY": 17, "symbolType": "square", "symbolSize": 256, "symbolStrokeWidth": 0, "symbolOpacity": 1, "rowPadding": -2, "labelFont": "Liberation Serif", "labelFontWeight": "bold", "labelFontSize": 15, "labelColor": "black", "labelOffset": 11, "labelExpr": "datum.value == '78' ? '78 K' : datum.value == '218' ? '218 K' : ''", "encode": {"symbols": {"update": {"opacity": {"value": 1}, "fillOpacity": {"value": 1}}}, "labels": {"update": {"dy": {"signal": "datum.value == '218' ? 3 : -4"}}}}}}
    }},
   {"data": {"name": "annC"}, "mark": {"type": "rect", "fill": {"gradient": "linear", "x1": 0, "y1": 0, "x2": 0, "y2": 1, "stops": [{"offset": 0, "color": "#ff4d1f"}, {"offset": 0.25, "color": "#ffae1e"}, {"offset": 0.45, "color": "#c9c82a"}, {"offset": 0.62, "color": "#3f9e66"}, {"offset": 0.8, "color": "#2a6fd0"}, {"offset": 1, "color": "#7035b0"}]}},
    "encoding": {"x": {"field": "x1", "type": "quantitative", "axis": null}, "x2": {"field": "x2"}, "y": {"field": "y1", "type": "quantitative", "axis": null}, "y2": {"field": "y2"}}},
   {"data": {"name": "annC"}, "mark": {"type": "point", "shape": "M-1,0.6L0,-0.6L1,0.6Z", "filled": true, "size": 144, "color": "#ff4d1f", "opacity": 1},
    "encoding": {"x": {"field": "hx", "type": "quantitative", "axis": null}, "y": {"field": "hy", "type": "quantitative", "axis": null}}},
   {"data": {"name": "annC"}, "mark": {"type": "text", "align": "left", "baseline": "middle", "fontSize": 21, "font": "Liberation Serif", "fontWeight": "bold", "color": "black"},
    "encoding": {"x": {"field": "tx", "type": "quantitative", "axis": null}, "y": {"field": "ty", "type": "quantitative", "axis": null}, "text": {"field": "fold"}}},
   {"data": {"name": "annC"}, "mark": {"type": "text", "align": "center", "baseline": "middle", "fontSize": 19, "font": "Liberation Serif", "fontWeight": "bold", "color": "#222222"},
    "encoding": {"x": {"field": "sx", "type": "quantitative", "axis": null}, "y": {"field": "sy", "type": "quantitative", "axis": null}, "text": {"field": "sample"}}},
   {"data": {"name": "annC"}, "mark": {"type": "rect", "fill": null, "filled": false, "stroke": "black", "strokeWidth": 1.5}, "encoding": {}}
  ],
  "resolve": {"axis": {"x": "independent", "y": "independent"}}
 },
 {"width": 346, "height": 279,
  "title": {"text": "d)", "anchor": "start", "frame": "group", "dx": -37, "offset": 2, "fontSize": 21, "font": "Liberation Serif", "fontWeight": "bold", "color": "black"},
  "layer": [
   {"data": {"name": "bandsD"}, "transform": [{"filter": "datum.k == 's'"}], "mark": {"type": "rect", "color": "#fae0d2"}, "encoding": {"x": {"field": "x1", "type": "quantitative", "scale": {"domain": [1400, 1650], "nice": false}, "axis": null}, "x2": {"field": "x2"}}},
   {"data": {"name": "bandsD"}, "transform": [{"filter": "datum.k == 'g'"}], "mark": {"type": "rect", "color": "#e0eed8"}, "encoding": {"x": {"field": "x1", "type": "quantitative", "axis": null}, "x2": {"field": "x2"}}},
   {"data": {"name": "specD"}, "transform": [{"fold": ["78","98","118","138","158","178","198","218"], "as": ["T", "v"]}],
    "mark": {"type": "line", "strokeWidth": 1.4, "clip": true, "interpolate": "monotone"},
    "encoding": {
     "x": {"field": "w", "type": "quantitative", "title": "Wavelength (nm)", "axis": {"values": [1400,1450,1500,1550,1600,1650], "format": "d", "tickSize": -5}},
     "y": {"field": "v", "type": "quantitative", "title": "Normalized emission", "scale": {"domain": [-0.05, 1.1], "nice": false, "zero": false}, "axis": {"values": [0,0.2,0.4,0.6,0.8,1.0], "format": ".1f", "tickSize": -5}},
     "stroke": {"field": "T", "type": "nominal", "scale": {"domain": ["218","198","178","158","138","118","98","78"], "range": ["#ff1438","#f43c2c","#f07a2c","#f0ab2a","#e8c52c","#b5bc2c","#6b8a2e","#1f5c30"]}, "legend": null}
    }},
   {"data": {"name": "specD"}, "transform": [{"fold": ["78","98","118","138","158","178","198","218"], "as": ["T", "v"]}],
    "mark": {"type": "point", "filled": true, "opacity": 0, "clip": true},
    "encoding": {
     "x": {"field": "w", "type": "quantitative", "axis": null},
     "y": {"field": "v", "type": "quantitative", "axis": null},
     "color": {"field": "T", "type": "nominal", "scale": {"domain": ["78","98","118","138","158","178","198","218"], "range": ["#1f5c30","#6b8a2e","#b5bc2c","#e8c52c","#f0ab2a","#f07a2c","#f43c2c","#ff1438"]},
      "legend": {"title": null, "orient": "none", "legendX": 40, "legendY": 19, "symbolType": "square", "symbolSize": 256, "symbolStrokeWidth": 0, "symbolOpacity": 1, "rowPadding": -2, "labelFont": "Liberation Serif", "labelFontWeight": "bold", "labelFontSize": 15, "labelColor": "black", "labelOffset": 12, "labelExpr": "datum.value == '78' ? '78 K' : datum.value == '218' ? '218 K' : ''", "encode": {"symbols": {"update": {"opacity": {"value": 1}, "fillOpacity": {"value": 1}}}, "labels": {"update": {"dy": {"signal": "datum.value == '218' ? 3 : -4"}}}}}}
    }},
   {"data": {"name": "annD"}, "mark": {"type": "rect", "fill": {"gradient": "linear", "x1": 0, "y1": 0, "x2": 0, "y2": 1, "stops": [{"offset": 0, "color": "#ff4d1f"}, {"offset": 0.25, "color": "#ffae1e"}, {"offset": 0.45, "color": "#c9c82a"}, {"offset": 0.62, "color": "#3f9e66"}, {"offset": 0.8, "color": "#2a6fd0"}, {"offset": 1, "color": "#7035b0"}]}},
    "encoding": {"x": {"field": "x1", "type": "quantitative", "axis": null}, "x2": {"field": "x2"}, "y": {"field": "y1", "type": "quantitative", "axis": null}, "y2": {"field": "y2"}}},
   {"data": {"name": "annD"}, "mark": {"type": "point", "shape": "M-1,0.6L0,-0.6L1,0.6Z", "filled": true, "size": 144, "color": "#ff4d1f", "opacity": 1},
    "encoding": {"x": {"field": "hx", "type": "quantitative", "axis": null}, "y": {"field": "hy", "type": "quantitative", "axis": null}}},
   {"data": {"name": "annD"}, "mark": {"type": "text", "align": "left", "baseline": "middle", "fontSize": 21, "font": "Liberation Serif", "fontWeight": "bold", "color": "black"},
    "encoding": {"x": {"field": "tx", "type": "quantitative", "axis": null}, "y": {"field": "ty", "type": "quantitative", "axis": null}, "text": {"field": "fold"}}},
   {"data": {"name": "annD"}, "mark": {"type": "text", "align": "center", "baseline": "middle", "fontSize": 19, "font": "Liberation Serif", "fontWeight": "bold", "color": "#222222"},
    "encoding": {"x": {"field": "sx", "type": "quantitative", "axis": null}, "y": {"field": "sy", "type": "quantitative", "axis": null}, "text": {"field": "sample"}}},
   {"data": {"name": "annD"}, "mark": {"type": "rect", "fill": null, "filled": false, "stroke": "black", "strokeWidth": 1.5}, "encoding": {}}
  ],
  "resolve": {"axis": {"x": "independent", "y": "independent"}}
 }
]
}
